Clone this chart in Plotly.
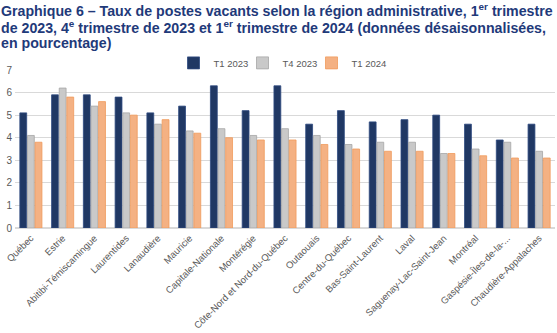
import plotly.graph_objects as go

regions = [
    "Québec", "Estrie", "Abitibi-Témiscamingue", "Laurentides", "Lanaudière",
    "Mauricie", "Capitale-Nationale", "Montérégie", "Côte-Nord et Nord-du-Québec",
    "Outaouais", "Centre-du-Québec", "Bas-Saint-Laurent", "Laval",
    "Saguenay-Lac-Saint-Jean", "Montréal", "Gaspésie-Îles-de-la-...",
    "Chaudière-Appalaches",
]
t1_2023 = [5.1, 5.9, 5.9, 5.8, 5.1, 5.4, 6.3, 5.2, 6.3, 4.6, 5.2, 4.7, 4.8, 5.0, 4.6, 3.9, 4.6]
t4_2023 = [4.1, 6.2, 5.4, 5.1, 4.6, 4.3, 4.4, 4.1, 4.4, 4.1, 3.7, 3.8, 3.8, 3.3, 3.5, 3.8, 3.4]
t1_2024 = [3.8, 5.8, 5.6, 5.0, 4.8, 4.2, 4.0, 3.9, 3.9, 3.7, 3.5, 3.4, 3.4, 3.3, 3.2, 3.1, 3.1]

series = [
    ("T1 2023", t1_2023, "#203864", "#2F4A80", 24),
    ("T4 2023", t4_2023, "#C9C9C9", "#A6A6A6", 24),
    ("T1 2024", t1_2024, "#F4B183", "#F09A5C", 40),
]

fig = go.Figure()
for name, vals, fill, edge, lw in series:
    fig.add_trace(go.Bar(
        name=name, x=regions, y=vals, legendwidth=lw,
        marker=dict(color=fill, line=dict(color=edge, width=0.8)),
    ))

# Title, one annotation per line so the line spacing stays tight
title_lines = [
    "Graphique 6 – Taux de postes vacants selon la région administrative, 1<sup>er</sup> trimestre",
    "de 2023, 4<sup>e</sup> trimestre de 2023 et 1<sup>er</sup> trimestre de 2024 (données désaisonnalisées,",
    "en pourcentage)",
]
title_centres = [9, 26, 43]  # px from the top of the page

top, bottom = 70, 103
plot_h = 333 - top - bottom

for line, yc in zip(title_lines, title_centres):
    fig.add_annotation(
        text="<b>" + line + "</b>", xref="paper", yref="paper",
        x=0, xshift=-16, xanchor="left", align="left",
        y=1 + (top - yc) / plot_h, yanchor="middle", showarrow=False,
        font=dict(family="Liberation Sans, Arial, sans-serif", size=14.2, color="#1F3A7A"),
    )

fig.update_layout(
    width=557, height=333,
    margin=dict(l=15, r=2, t=top, b=bottom),
    paper_bgcolor="white", plot_bgcolor="white",
    font=dict(family="Liberation Sans, Arial, sans-serif", color="#595959", size=10),
    barmode="group", bargap=0.28, bargroupgap=0.1,
    legend=dict(
        orientation="h", x=0.5, xanchor="center", y=1.045, yanchor="middle",
        font=dict(size=9.5, color="#595959"), itemwidth=30,
        entrywidthmode="pixels",
        traceorder="normal",
    ),
    xaxis=dict(
        tickangle=-45, tickfont=dict(size=9.5, color="#595959"),
        showgrid=False, showline=True, linecolor="#D9D9D9", ticks="",
    ),
    yaxis=dict(
        range=[0, 7], dtick=1, showgrid=True, gridcolor="#D9D9D9",
        zeroline=True, zerolinecolor="#D9D9D9", tickfont=dict(size=10, color="#595959"),
        ticks="", ticklabelstandoff=2,
    ),
)

fig.write_html("out.html")
